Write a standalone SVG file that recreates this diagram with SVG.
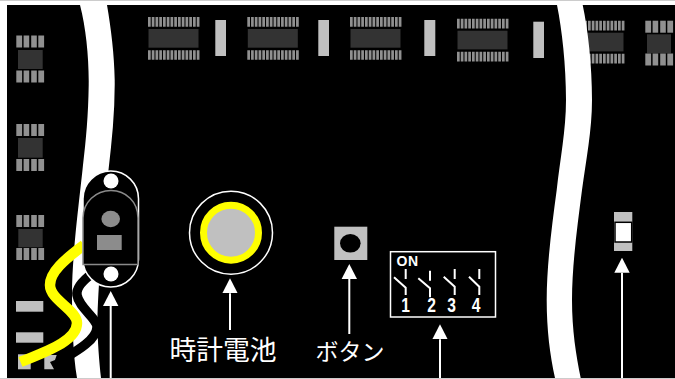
<svg xmlns="http://www.w3.org/2000/svg" width="675" height="379" viewBox="0 0 675 379">
<style>
.pad{fill:#909090}
.body{fill:#333}
.lt{fill:#c0c0c0}
.band{fill:#fff}
.arrow{stroke:#fff;stroke-width:2;fill:none;marker-end:url(#head)}
.sw{stroke:#fff;stroke-width:2;fill:none}
.jp{fill:#fff;font-family:"Noto Sans CJK JP","Noto Sans",sans-serif;text-anchor:middle}
.dig{fill:#fff;font-family:"Liberation Sans",sans-serif;font-weight:700;text-anchor:middle}
.pins{stroke:#909090;stroke-width:9.7;stroke-dasharray:2.7 1.05;fill:none}
</style>
<defs>
<marker id="head" markerUnits="userSpaceOnUse" markerWidth="15" markerHeight="16" refX="0" refY="8" orient="auto">
<polygon points="0,0.3 15,8 0,15.7" fill="#fff"/>
</marker>
<g id="tssop">
<line class="pins" x1="0" y1="4.85" x2="52" y2="4.85"/>
<rect class="body" x="0.5" y="12" width="50" height="18.7"/>
<line class="pins" x1="0" y1="38" x2="52" y2="38"/>
</g>
<g id="so8pads">
<rect class="pad" x="0" width="5.8" height="12"/>
<rect class="pad" x="7.300" width="5.600" height="12"/>
<rect class="pad" x="14.900" width="5.600" height="12"/>
<rect class="pad" x="22" width="5.800" height="12"/>
</g>
</defs>
<rect width="675" height="379" fill="#fff"/>
<rect width="675" height="1" fill="#ccc"/>
<rect y="378" width="675" height="1" fill="#ccc"/>
<rect id="board" x="7" y="5" width="668" height="373" fill="#000"/>

<g id="chips-left">
<use href="#so8pads" x="16.300" y="35.500"/><rect class="body" x="18" y="50" width="24.700" height="19"/><use href="#so8pads" x="16.300" y="70.500"/>
<use href="#so8pads" x="16.300" y="124"/><rect class="body" x="18" y="138" width="24.700" height="19.700"/><use href="#so8pads" x="16.300" y="159"/>
<use href="#so8pads" x="16.300" y="215"/><rect class="body" x="18.300" y="229" width="24.400" height="18.300"/><use href="#so8pads" x="16.300" y="248"/>
</g>
<g id="chips-top">
<use href="#tssop" x="148" y="17"/>
<use href="#tssop" x="247.300" y="17"/>
<use href="#tssop" x="350" y="17"/>
<use href="#tssop" x="457" y="18.700"/>
<use href="#tssop" x="573" y="20.700"/>
<rect class="lt" x="215.300" y="20" width="10.700" height="36"/>
<rect class="lt" x="318.300" y="20" width="10.700" height="36"/>
<rect class="lt" x="424.300" y="20" width="11" height="36"/>
<rect class="lt" x="533.300" y="21.700" width="10.700" height="36.300"/>
</g>
<g id="chip-right">
<use href="#so8pads" x="645.300" y="20.700"/><rect class="body" x="647" y="34.300" width="24" height="19"/><use href="#so8pads" x="645.300" y="53.500"/>
</g>
<g id="pads-left">
<rect class="lt" x="16" y="301" width="27.300" height="10.700"/>
<rect class="lt" x="16" y="332.300" width="27.300" height="10.400"/>
<rect class="lt" x="18" y="354.300" width="12.700" height="15"/>
<polygon class="lt" points="44.300,355 56.700,355 55,360 50,362 54,369.300 44.300,369.300"/>
</g>

<path id="band-left" class="band" d="M80,5C86,28 89,58 88.700,85C88.300,115 86,140 83,165C80,195 72,255 72,293C72,320 73,355 77,378H101C99,360 97,335 97.500,315C99,270 105,205 108.500,170C112,140 115,110 114.700,80C114.300,55 111,28 107,5Z"/>
<path id="band-right" class="band" d="M557,5C562,30 566,65 566,100C566,130 560,160 556.700,190C552,225 546.700,265 546.700,300C546.700,330 550,355 555,378H580.700C576,355 572,330 572,300C572,265 577.500,225 582,190C586,160 592,130 592,100C592,65 588,30 582.700,5Z"/>

<path id="wire-black" d="M93,273C82,281 76,288 77,295C79,308 97,318 97,327C97,340 75,352 60,361" fill="none" stroke="#000" stroke-width="9.500"/>
<path id="wire-yellow" d="M84,245C64,260 50,272 50,285C50,300 77,310 77,323C77,340 50,350 20.500,362" fill="none" stroke="#ff0" stroke-width="10.500"/>

<g id="node-holder">
<rect x="83" y="171" width="55.500" height="116" rx="27.700" fill="#000" stroke="#fff" stroke-width="1.500"/>
<path d="M83,264.500V218C83,202 96,190.500 111,190.500C126,190.500 138,202 138,218V264.500Z" fill="#000" stroke="#8a8a8a" stroke-width="1.500"/>
<circle cx="111" cy="181" r="7.500" fill="#fff"/>
<circle cx="111" cy="274" r="7.500" fill="#fff"/>
<ellipse cx="110.700" cy="219" rx="9.300" ry="8.300" fill="#8c8c8c"/>
<rect x="97" y="235" width="24.700" height="15" fill="#8c8c8c"/>
</g>
<g id="node-battery">
<circle cx="231" cy="232.700" r="41.500" fill="none" stroke="#fff" stroke-width="1.500"/>
<circle cx="231" cy="232.700" r="27.500" fill="#c0c0c0" stroke="#ff0" stroke-width="7"/>
<text class="jp" x="223" y="359.500" font-size="26.800">時計電池</text>
</g>
<g id="node-button">
<rect class="lt" x="334.300" y="226.700" width="33" height="33.300"/>
<ellipse cx="350.300" cy="243.300" rx="10.300" ry="9.300" fill="#000"/>
<text class="jp" x="350" y="360" font-size="23">ボタン</text>
</g>
<g id="node-dip">
<rect x="390.500" y="251.700" width="105" height="65.300" fill="none" stroke="#fff" stroke-width="1.500"/>
<text class="dig" font-size="14" x="402" y="265.700">O</text>
<text class="dig" font-size="14" x="413" y="265.700">N</text>
<path class="sw" d="M405.700,269V279M394,277.300L405.700,287.700V295"/>
<path class="sw" d="M430,270.700V280.700M418.300,278.300L430,288.300V297.300"/>
<path class="sw" d="M454.700,269V279M443.700,276.700L454.700,286.700V295"/>
<path class="sw" d="M479.300,269V279M469,276.700L479.300,286.700V295"/>
<text class="dig" font-size="19.500" x="405.700" y="312.300" transform="translate(405.700 0) scale(.8 1) translate(-405.700 0)">1</text>
<text class="dig" font-size="19.500" x="431.700" y="312.300" transform="translate(431.700 0) scale(.8 1) translate(-431.700 0)">2</text>
<text class="dig" font-size="19.500" x="451.700" y="312.300" transform="translate(451.700 0) scale(.8 1) translate(-451.700 0)">3</text>
<text class="dig" font-size="19.500" x="476" y="312.300" transform="translate(476 0) scale(.8 1) translate(-476 0)">4</text>
</g>
<g id="node-led">
<rect class="lt" x="614" y="212" width="18.300" height="39"/>
<rect x="615" y="222.300" width="16.700" height="19.700" fill="#fff" stroke="#000" stroke-width="1.500"/>
</g>

<g id="connectors">
<line class="arrow" x1="110.700" y1="378" x2="110.700" y2="306"/>
<line class="arrow" x1="230" y1="330" x2="230" y2="293.300"/>
<line class="arrow" x1="349.300" y1="334" x2="349.300" y2="279"/>
<line class="arrow" x1="440" y1="378" x2="440" y2="339.300"/>
<line class="arrow" x1="622" y1="378" x2="622" y2="272.700"/>
</g>
</svg>
